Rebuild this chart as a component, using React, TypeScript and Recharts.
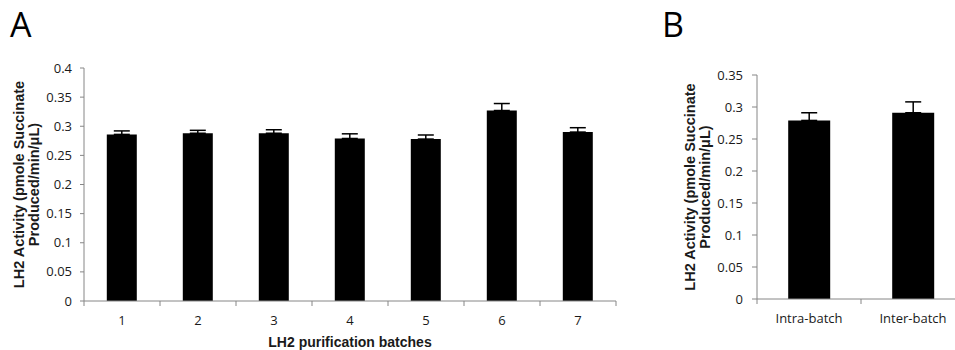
import React from "react"
import { BarChart, Bar, XAxis, YAxis, ErrorBar } from "recharts"

// panel A: seven purification batches
const batches = ["1", "2", "3", "4", "5", "6", "7"]
const batchMeans = [0.286, 0.288, 0.288, 0.279, 0.278, 0.327, 0.29]
const batchErrors = [0.006, 0.005, 0.006, 0.008, 0.007, 0.012, 0.0075]
const ticksA = [0, 0.05, 0.1, 0.15, 0.2, 0.25, 0.3, 0.35, 0.4]

// panel B: intra- vs inter-batch
const groups = ["Intra-batch", "Inter-batch"]
const groupMeans = [0.279, 0.291]
const groupErrors = [0.012, 0.017]
const ticksB = [0, 0.05, 0.1, 0.15, 0.2, 0.25, 0.3, 0.35]

const dataA = batches.map((name, i) => ({ name, value: batchMeans[i], err: [0, batchErrors[i]] }))
const dataB = groups.map((name, i) => ({ name, value: groupMeans[i], err: [0, groupErrors[i]] }))

const AXIS = "#868686"
const TEXT = "#1a1a1a"
const TICK_FONT = { fontFamily: "'Open Sans', sans-serif", fontSize: 13, fill: TEXT }
const TITLE_FONT = "Arial, 'Liberation Sans', sans-serif"

// Excel style: tick marks sit between categories, labels in the middle
function makeCategoryTick(halfBand: number, count: number) {
  return function CategoryTick(props: any) {
    const { x, y, payload, index } = props
    return (
      <g>
        <line x1={x - halfBand} x2={x - halfBand} y1={y} y2={y + 5} stroke={AXIS} />
        {index === count - 1 && (
          <line x1={x + halfBand} x2={x + halfBand} y1={y} y2={y + 5} stroke={AXIS} />
        )}
        <text x={x} y={y + 24} textAnchor="middle" {...TICK_FONT}>
          {payload.value}
        </text>
      </g>
    )
  }
}

function makeYTitle(x1: number, x2: number) {
  return function YTitle(props: any) {
    const { viewBox } = props
    const cy = viewBox.y + viewBox.height / 2
    const lx1 = viewBox.x + x1
    const lx2 = viewBox.x + x2
    return (
      <g fontFamily={TITLE_FONT} fontWeight={700} fontSize={14.5} fill={TEXT}>
        <text x={lx1} y={cy} textAnchor="middle" dominantBaseline="central" transform={`rotate(-90 ${lx1} ${cy})`}>
          LH2 Activity (pmole Succinate
        </text>
        <text x={lx2} y={cy} textAnchor="middle" dominantBaseline="central" transform={`rotate(-90 ${lx2} ${cy})`}>
          Produced/min/μL)
        </text>
      </g>
    )
  }
}

function XTitle(props: any) {
  const { viewBox } = props
  return (
    <text
      x={viewBox.x + viewBox.width / 2}
      y={viewBox.y + 46}
      textAnchor="middle"
      fontFamily={TITLE_FONT}
      fontWeight={700}
      fontSize={14}
      fill={TEXT}
    >
      LH2 purification batches
    </text>
  )
}

export default function App() {
  return (
    <div
      style={{
        position: "absolute",
        left: 0,
        top: 0,
        width: 955,
        height: 350,
        overflow: "hidden",
        background: "#fff",
      }}
    >
      <svg width={955} height={350} style={{ position: "absolute", left: 0, top: 0 }}>
        <text x={10} y={37} fontFamily="'Open Sans', sans-serif" fontSize={34} fill="#000">
          A
        </text>
        <text x={662} y={37} fontFamily="'Open Sans', sans-serif" fontSize={34} fill="#000">
          B
        </text>
      </svg>

      <div style={{ position: "absolute", left: 0, top: 0 }}>
        <BarChart width={640} height={350} data={dataA} margin={{ top: 68, right: 24, bottom: 0, left: 0 }} barCategoryGap="30%">
          <XAxis
            dataKey="name"
            height={49}
            stroke={AXIS}
            tickLine={false}
            tickSize={0}
            tickMargin={0}
            interval={0}
            tick={makeCategoryTick(38, batches.length)}
            label={{ content: XTitle }}
          />
          <YAxis
            width={84}
            domain={[0, 0.4]}
            ticks={ticksA}
            interval={0}
            stroke={AXIS}
            tickSize={4}
            tickMargin={8}
            tick={TICK_FONT}
            label={{ content: makeYTitle(19, 34) }}
          />
          <Bar dataKey="value" fill="#000" isAnimationActive={false}>
            <ErrorBar dataKey="err" width={8} stroke="#000" strokeWidth={1.5} isAnimationActive={false} />
          </Bar>
        </BarChart>
      </div>

      <div style={{ position: "absolute", left: 640, top: 0 }}>
        <BarChart width={325} height={350} data={dataB} margin={{ top: 75, right: 0, bottom: 0, left: 0 }} barCategoryGap="30%">
          <XAxis
            dataKey="name"
            height={51}
            stroke={AXIS}
            tickLine={false}
            tickSize={0}
            tickMargin={0}
            interval={0}
            tick={makeCategoryTick(52, groups.length)}
          />
          <YAxis
            width={117}
            domain={[0, 0.35]}
            ticks={ticksB}
            interval={0}
            stroke={AXIS}
            tickSize={5}
            tickMargin={9}
            tick={TICK_FONT}
            label={{ content: makeYTitle(50, 65) }}
          />
          <Bar dataKey="value" fill="#000" isAnimationActive={false}>
            <ErrorBar dataKey="err" width={8} stroke="#000" strokeWidth={1.5} isAnimationActive={false} />
          </Bar>
        </BarChart>
      </div>
    </div>
  )
}
